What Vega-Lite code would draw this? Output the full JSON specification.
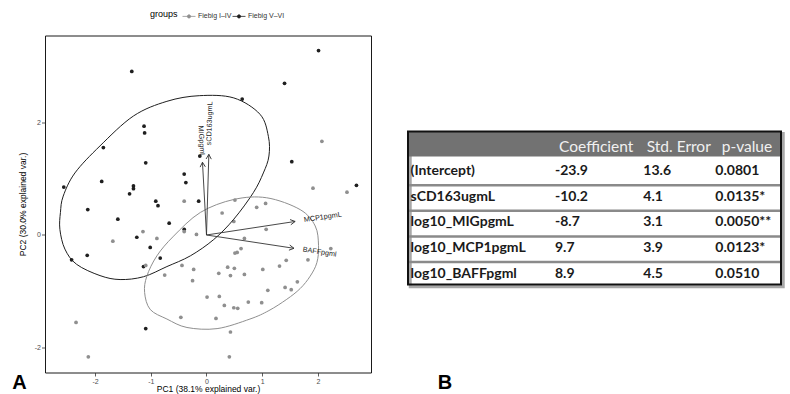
{
"$schema": "https://vega.github.io/schema/vega-lite/v6.json",
"background": "white",
"padding": {"left": 11, "top": 8.5, "right": 0, "bottom": 0},
"spacing": 37,
"bounds": "flush",
"config": {
  "font": "Liberation Sans",
  "view": {"stroke": null},
  "axis": {"grid": false, "domain": false, "tickColor": "#333", "tickSize": 3.5, "tickWidth": 0.8, "labelFontSize": 7, "labelColor": "#4d4d4d", "labelPadding": 1, "titleFontSize": 8.5, "titleFontWeight": "normal", "titleColor": "#000"},
  "legend": {"titleFontSize": 9, "titleFontWeight": "normal", "titleColor": "#000", "titlePadding": 4, "labelFontSize": 7, "labelColor": "#333", "labelOffset": 2, "columnPadding": -2, "symbolStrokeWidth": 0.8, "symbolOpacity": 1, "padding": 0}
},
"datasets": {
  "pts": [
    {"group":"Fiebig V–VI","pc1":2.01,"pc2":3.27},{"group":"Fiebig V–VI","pc1":-1.34,"pc2":2.90},{"group":"Fiebig V–VI","pc1":1.40,"pc2":2.69},{"group":"Fiebig V–VI","pc1":0.64,"pc2":2.41},{"group":"Fiebig V–VI","pc1":-1.12,"pc2":1.93},{"group":"Fiebig V–VI","pc1":-1.11,"pc2":1.81},{"group":"Fiebig V–VI","pc1":-1.85,"pc2":1.55},{"group":"Fiebig V–VI","pc1":-1.09,"pc2":1.28},{"group":"Fiebig V–VI","pc1":1.53,"pc2":1.30},{"group":"Fiebig V–VI","pc1":-0.40,"pc2":1.08},{"group":"Fiebig V–VI","pc1":-0.37,"pc2":0.93},{"group":"Fiebig V–VI","pc1":-2.56,"pc2":0.85},{"group":"Fiebig V–VI","pc1":-1.88,"pc2":0.95},{"group":"Fiebig V–VI","pc1":-1.31,"pc2":0.87},{"group":"Fiebig V–VI","pc1":-1.31,"pc2":0.82},{"group":"Fiebig V–VI","pc1":-1.38,"pc2":0.73},{"group":"Fiebig V–VI","pc1":2.69,"pc2":0.88},{"group":"Fiebig V–VI","pc1":-0.91,"pc2":0.60},{"group":"Fiebig V–VI","pc1":-0.87,"pc2":0.52},{"group":"Fiebig V–VI","pc1":-0.14,"pc2":0.60},{"group":"Fiebig V–VI","pc1":-2.13,"pc2":0.45},{"group":"Fiebig V–VI","pc1":-1.59,"pc2":0.28},{"group":"Fiebig V–VI","pc1":-0.67,"pc2":0.21},{"group":"Fiebig V–VI","pc1":-0.40,"pc2":0.10},{"group":"Fiebig V–VI","pc1":-1.25,"pc2":-0.04},{"group":"Fiebig V–VI","pc1":-1.01,"pc2":-0.22},{"group":"Fiebig V–VI","pc1":-2.14,"pc2":-0.36},{"group":"Fiebig V–VI","pc1":-2.42,"pc2":-0.44},{"group":"Fiebig V–VI","pc1":-0.83,"pc2":-0.41},{"group":"Fiebig V–VI","pc1":-1.13,"pc2":-0.56},{"group":"Fiebig V–VI","pc1":-1.09,"pc2":-1.66},{"group":"Fiebig V–VI","pc1":-0.12,"pc2":1.40},
    {"group":"Fiebig I–IV","pc1":2.07,"pc2":1.66},{"group":"Fiebig I–IV","pc1":1.91,"pc2":0.83},{"group":"Fiebig I–IV","pc1":2.52,"pc2":0.76},{"group":"Fiebig I–IV","pc1":-0.40,"pc2":0.60},{"group":"Fiebig I–IV","pc1":0.51,"pc2":0.62},{"group":"Fiebig I–IV","pc1":0.90,"pc2":0.49},{"group":"Fiebig I–IV","pc1":1.06,"pc2":0.56},{"group":"Fiebig I–IV","pc1":0.28,"pc2":0.39},{"group":"Fiebig I–IV","pc1":0.49,"pc2":0.24},{"group":"Fiebig I–IV","pc1":-1.14,"pc2":0.06},{"group":"Fiebig I–IV","pc1":-1.68,"pc2":-0.11},{"group":"Fiebig I–IV","pc1":-0.89,"pc2":-0.06},{"group":"Fiebig I–IV","pc1":-0.40,"pc2":0.06},{"group":"Fiebig I–IV","pc1":-0.18,"pc2":0.01},{"group":"Fiebig I–IV","pc1":1.07,"pc2":0.10},{"group":"Fiebig I–IV","pc1":0.68,"pc2":-0.06},{"group":"Fiebig I–IV","pc1":0.62,"pc2":-0.24},{"group":"Fiebig I–IV","pc1":0.51,"pc2":-0.32},{"group":"Fiebig I–IV","pc1":0.55,"pc2":-0.31},{"group":"Fiebig I–IV","pc1":2.23,"pc2":-0.24},{"group":"Fiebig I–IV","pc1":1.82,"pc2":-0.44},{"group":"Fiebig I–IV","pc1":1.43,"pc2":-0.45},{"group":"Fiebig I–IV","pc1":-1.09,"pc2":-0.54},{"group":"Fiebig I–IV","pc1":-0.44,"pc2":-0.54},{"group":"Fiebig I–IV","pc1":-0.23,"pc2":-0.61},{"group":"Fiebig I–IV","pc1":-0.75,"pc2":-0.71},{"group":"Fiebig I–IV","pc1":-0.25,"pc2":-0.81},{"group":"Fiebig I–IV","pc1":0.22,"pc2":-0.68},{"group":"Fiebig I–IV","pc1":0.38,"pc2":-0.57},{"group":"Fiebig I–IV","pc1":0.50,"pc2":-0.59},{"group":"Fiebig I–IV","pc1":0.43,"pc2":-0.72},{"group":"Fiebig I–IV","pc1":0.68,"pc2":-0.70},{"group":"Fiebig I–IV","pc1":1.01,"pc2":-0.61},{"group":"Fiebig I–IV","pc1":1.31,"pc2":-0.55},{"group":"Fiebig I–IV","pc1":1.63,"pc2":-0.83},{"group":"Fiebig I–IV","pc1":1.41,"pc2":-0.93},{"group":"Fiebig I–IV","pc1":1.52,"pc2":-0.97},{"group":"Fiebig I–IV","pc1":1.10,"pc2":-0.98},{"group":"Fiebig I–IV","pc1":0.01,"pc2":-1.10},{"group":"Fiebig I–IV","pc1":0.23,"pc2":-1.09},{"group":"Fiebig I–IV","pc1":0.32,"pc2":-1.25},{"group":"Fiebig I–IV","pc1":0.49,"pc2":-1.29},{"group":"Fiebig I–IV","pc1":0.56,"pc2":-1.30},{"group":"Fiebig I–IV","pc1":0.75,"pc2":-1.19},{"group":"Fiebig I–IV","pc1":0.99,"pc2":-1.20},{"group":"Fiebig I–IV","pc1":-0.46,"pc2":-1.46},{"group":"Fiebig I–IV","pc1":0.17,"pc2":-1.48},{"group":"Fiebig I–IV","pc1":0.43,"pc2":-1.72},{"group":"Fiebig I–IV","pc1":-2.34,"pc2":-1.55},{"group":"Fiebig I–IV","pc1":-2.12,"pc2":-2.16},{"group":"Fiebig I–IV","pc1":0.41,"pc2":-2.16}
  ],
  "ell": [
    {"group":"Fiebig V–VI","k":0,"pc1":-0.13,"pc2":2.47},{"group":"Fiebig V–VI","k":1,"pc1":0.49,"pc2":2.43},{"group":"Fiebig V–VI","k":2,"pc1":0.96,"pc2":2.14},{"group":"Fiebig V–VI","k":3,"pc1":1.11,"pc2":1.75},{"group":"Fiebig V–VI","k":4,"pc1":1.12,"pc2":1.40},{"group":"Fiebig V–VI","k":5,"pc1":1.02,"pc2":1.10},{"group":"Fiebig V–VI","k":6,"pc1":0.84,"pc2":0.75},{"group":"Fiebig V–VI","k":7,"pc1":0.49,"pc2":0.28},{"group":"Fiebig V–VI","k":8,"pc1":0.13,"pc2":-0.08},{"group":"Fiebig V–VI","k":9,"pc1":-0.29,"pc2":-0.37},{"group":"Fiebig V–VI","k":10,"pc1":-0.71,"pc2":-0.56},{"group":"Fiebig V–VI","k":11,"pc1":-1.13,"pc2":-0.74},{"group":"Fiebig V–VI","k":12,"pc1":-1.55,"pc2":-0.79},{"group":"Fiebig V–VI","k":13,"pc1":-1.91,"pc2":-0.72},{"group":"Fiebig V–VI","k":14,"pc1":-2.33,"pc2":-0.52},{"group":"Fiebig V–VI","k":15,"pc1":-2.54,"pc2":-0.25},{"group":"Fiebig V–VI","k":16,"pc1":-2.63,"pc2":0.10},{"group":"Fiebig V–VI","k":17,"pc1":-2.62,"pc2":0.40},{"group":"Fiebig V–VI","k":18,"pc1":-2.57,"pc2":0.69},{"group":"Fiebig V–VI","k":19,"pc1":-2.36,"pc2":1.10},{"group":"Fiebig V–VI","k":20,"pc1":-1.91,"pc2":1.58},{"group":"Fiebig V–VI","k":21,"pc1":-1.31,"pc2":2.11},{"group":"Fiebig V–VI","k":22,"pc1":-0.71,"pc2":2.37},
    {"group":"Fiebig I–IV","k":0,"pc1":0.49,"pc2":0.63},{"group":"Fiebig I–IV","k":1,"pc1":1.08,"pc2":0.66},{"group":"Fiebig I–IV","k":2,"pc1":1.68,"pc2":0.45},{"group":"Fiebig I–IV","k":3,"pc1":1.95,"pc2":0.16},{"group":"Fiebig I–IV","k":4,"pc1":2.01,"pc2":-0.19},{"group":"Fiebig I–IV","k":5,"pc1":1.98,"pc2":-0.49},{"group":"Fiebig I–IV","k":6,"pc1":1.86,"pc2":-0.73},{"group":"Fiebig I–IV","k":7,"pc1":1.68,"pc2":-0.95},{"group":"Fiebig I–IV","k":8,"pc1":1.44,"pc2":-1.14},{"group":"Fiebig I–IV","k":9,"pc1":1.12,"pc2":-1.34},{"group":"Fiebig I–IV","k":10,"pc1":0.78,"pc2":-1.49},{"group":"Fiebig I–IV","k":11,"pc1":0.19,"pc2":-1.66},{"group":"Fiebig I–IV","k":12,"pc1":-0.35,"pc2":-1.64},{"group":"Fiebig I–IV","k":13,"pc1":-0.71,"pc2":-1.49},{"group":"Fiebig I–IV","k":14,"pc1":-1.01,"pc2":-1.32},{"group":"Fiebig I–IV","k":15,"pc1":-1.11,"pc2":-1.02},{"group":"Fiebig I–IV","k":16,"pc1":-1.07,"pc2":-0.73},{"group":"Fiebig I–IV","k":17,"pc1":-0.89,"pc2":-0.37},{"group":"Fiebig I–IV","k":18,"pc1":-0.59,"pc2":-0.02},{"group":"Fiebig I–IV","k":19,"pc1":-0.11,"pc2":0.40}
  ],
  "arr": [
    {"var":"MIGpgmL","pc1":-0.072,"pc2":1.29},{"var":"sCD163ugmL","pc1":0.042,"pc2":1.43},{"var":"MCP1pgmL","pc1":1.59,"pc2":0.24},{"var":"BAFFpgml","pc1":1.57,"pc2":-0.236}
  ],
  "panels": [
    {"lab":"A","pc1":-3.353,"pc2":-2.736},{"lab":"B","pc1":4.28,"pc2":-2.736}
  ],
  "body": [
    {"row":1,"term":"(Intercept)","coef":"-23.9","se":"13.6","p":"0.0801"},
    {"row":2,"term":"sCD163ugmL","coef":"-10.2","se":"4.1","p":"0.0135*"},
    {"row":3,"term":"log10_MIGpgmL","coef":"-8.7","se":"3.1","p":"0.0050**"},
    {"row":4,"term":"log10_MCP1pgmL","coef":"9.7","se":"3.9","p":"0.0123*"},
    {"row":5,"term":"log10_BAFFpgml","coef":"8.9","se":"4.5","p":"0.0510"}
  ],
  "hdr": [
    {"row":0,"coef":"Coefficient","se":"Std. Error","p":"p-value"}
  ]
},
"hconcat": [
  {
    "width": 326, "height": 337,
    "view": {"stroke": "#1a1a1a", "strokeWidth": 1},
    "layer": [
      {"data": {"name": "pts"}, "mark": {"type": "circle", "size": 14, "opacity": 1},
       "encoding": {
         "x": {"field": "pc1", "type": "quantitative", "scale": {"domain": [-2.897, 2.951], "nice": false, "zero": false},
               "axis": {"title": "PC1 (38.1% explained var.)", "values": [-2,-1,0,1,2], "format": "d", "labelExpr": "replace(datum.label, '−', '-')", "titlePadding": 0.5}},
         "y": {"field": "pc2", "type": "quantitative", "scale": {"domain": [-2.438, 3.537], "nice": false, "zero": false},
               "axis": {"title": "PC2 (30.0% explained var.)", "values": [-2,0,2], "format": "d", "labelExpr": "replace(datum.label, '−', '-')", "titlePadding": 7}},
         "color": {"field": "group", "type": "nominal", "scale": {"domain": ["Fiebig I–IV", "Fiebig V–VI"], "range": ["#8f8f8f", "#1f1f1f"]},
                   "legend": {"title": "groups", "orient": "none", "legendX": 105, "legendY": -26.5, "direction": "horizontal", "titleOrient": "left",
                              "symbolType": "M-1,0L1,0M-0.25,0A0.25,0.25 0 1,1 0.25,0A0.25,0.25 0 1,1 -0.25,0Z",
                              "symbolSize": 169}}
       }},
      {"data": {"name": "ell"}, "mark": {"type": "line", "interpolate": "cardinal-closed", "strokeWidth": 1},
       "encoding": {
         "x": {"field": "pc1", "type": "quantitative"},
         "y": {"field": "pc2", "type": "quantitative"},
         "color": {"field": "group", "type": "nominal"},
         "order": {"field": "k", "type": "quantitative"}
       }},
      {"data": {"name": "arr"}, "transform": [{"calculate": "0", "as": "o"}], "mark": {"type": "rule", "color": "#333", "strokeWidth": 0.9},
       "encoding": {
         "x": {"field": "o", "type": "quantitative"},
         "y": {"field": "o", "type": "quantitative"},
         "x2": {"field": "pc1"},
         "y2": {"field": "pc2"}
       }},
      {"data": {"name": "arr"}, "transform": [{"calculate": "atan2(-datum.pc2, datum.pc1) * 180 / PI", "as": "dir"}],
       "mark": {"type": "point", "shape": "M-1,-0.55L0,0L-1,0.55", "filled": false, "size": 90, "strokeWidth": 0.9, "color": "#333", "opacity": 1},
       "encoding": {
         "x": {"field": "pc1", "type": "quantitative"},
         "y": {"field": "pc2", "type": "quantitative"},
         "angle": {"field": "dir", "type": "quantitative", "scale": null}
       }},
      {"data": {"name": "arr"}, "transform": [{"filter": "datum.pc1 > 0"}, {"calculate": "-atan(datum.pc2 / datum.pc1) * 180 / PI", "as": "ta"}],
       "mark": {"type": "text", "align": "left", "baseline": "middle", "dx": 9, "fontSize": 7.2, "color": "#222"},
       "encoding": {
         "x": {"field": "pc1", "type": "quantitative"},
         "y": {"field": "pc2", "type": "quantitative"},
         "text": {"field": "var"},
         "angle": {"field": "ta", "type": "quantitative", "scale": null}
       }},
      {"data": {"name": "arr"}, "transform": [{"filter": "datum.pc1 < 0"}, {"calculate": "-atan(datum.pc2 / datum.pc1) * 180 / PI", "as": "ta"}],
       "mark": {"type": "text", "align": "right", "baseline": "middle", "dx": -5, "fontSize": 7.2, "color": "#222"},
       "encoding": {
         "x": {"field": "pc1", "type": "quantitative"},
         "y": {"field": "pc2", "type": "quantitative"},
         "text": {"field": "var"},
         "angle": {"field": "ta", "type": "quantitative", "scale": null}
       }},
      {"data": {"name": "panels"}, "mark": {"type": "text", "align": "center", "baseline": "alphabetic", "fontSize": 20, "fontWeight": "bold", "color": "#000", "clip": false},
       "encoding": {
         "x": {"field": "pc1", "type": "quantitative"},
         "y": {"field": "pc2", "type": "quantitative"},
         "text": {"field": "lab"}
       }}
    ]
  },
  {
    "width": 373, "height": 337,
    "view": {"stroke": null},
    "encoding": {
      "x": {"field": "cx", "type": "quantitative", "scale": {"domain": [0, 100], "nice": false, "zero": false}, "axis": null},
      "y": {"field": "cy", "type": "quantitative", "scale": {"domain": [-4.30, 8.863], "reverse": true, "nice": false, "zero": false}, "axis": null}
    },
    "layer": [
      {"data": {"name": "hdr"}, "transform": [{"calculate": "0.6", "as": "cx"}, {"calculate": "100.6", "as": "cx2"}, {"calculate": "-0.47", "as": "cy"}, {"calculate": "5.51", "as": "cy2"}],
       "mark": {"type": "rect", "filled": false, "stroke": "#a8a8a8", "strokeWidth": 3},
       "encoding": {"x2": {"field": "cx2"}, "y2": {"field": "cy2"}}},
      {"data": {"name": "hdr"}, "transform": [{"calculate": "0", "as": "cx"}, {"calculate": "100", "as": "cx2"}, {"calculate": "-0.55", "as": "cy"}, {"calculate": "0.43", "as": "cy2"}],
       "mark": {"type": "rect", "fill": "#727272"},
       "encoding": {"x2": {"field": "cx2"}, "y2": {"field": "cy2"}}},
      {"data": {"name": "body"}, "transform": [{"filter": "datum.row < 5"}, {"calculate": "0", "as": "cx"}, {"calculate": "100", "as": "cx2"}, {"calculate": "datum.row + 0.55", "as": "cy"}],
       "mark": {"type": "rule", "stroke": "#8a8a8a", "strokeWidth": 2.5},
       "encoding": {"x2": {"field": "cx2"}}},
      {"data": {"name": "hdr"}, "transform": [{"calculate": "0", "as": "cx"}, {"calculate": "100", "as": "cx2"}, {"calculate": "-0.55", "as": "cy"}, {"calculate": "5.43", "as": "cy2"}],
       "mark": {"type": "rect", "filled": false, "stroke": "#111", "strokeWidth": 2},
       "encoding": {"x2": {"field": "cx2"}, "y2": {"field": "cy2"}}},
      {"data": {"name": "body"}, "transform": [{"calculate": "0.7", "as": "cx"}, {"calculate": "datum.row", "as": "cy"}],
       "mark": {"type": "text", "align": "left", "baseline": "middle", "font": "Lato", "fontSize": 14, "fontWeight": "bold", "color": "#1a1a1a"},
       "encoding": {"text": {"field": "term"}}},
      {"data": {"name": "body"}, "transform": [{"calculate": "39.4", "as": "cx"}, {"calculate": "datum.row", "as": "cy"}],
       "mark": {"type": "text", "align": "left", "baseline": "middle", "font": "Lato", "fontSize": 14, "fontWeight": "bold", "color": "#1a1a1a"},
       "encoding": {"text": {"field": "coef"}}},
      {"data": {"name": "body"}, "transform": [{"calculate": "63.1", "as": "cx"}, {"calculate": "datum.row", "as": "cy"}],
       "mark": {"type": "text", "align": "left", "baseline": "middle", "font": "Lato", "fontSize": 14, "fontWeight": "bold", "color": "#1a1a1a"},
       "encoding": {"text": {"field": "se"}}},
      {"data": {"name": "body"}, "transform": [{"calculate": "82.4", "as": "cx"}, {"calculate": "datum.row", "as": "cy"}],
       "mark": {"type": "text", "align": "left", "baseline": "middle", "font": "Lato", "fontSize": 14, "fontWeight": "bold", "color": "#1a1a1a"},
       "encoding": {"text": {"field": "p"}}},
      {"data": {"name": "hdr"}, "transform": [{"calculate": "40.5", "as": "cx"}, {"calculate": "datum.row", "as": "cy"}],
       "mark": {"type": "text", "align": "left", "baseline": "middle", "font": "Lato", "fontSize": 15.5, "color": "#f0f0f0", "dy": 1},
       "encoding": {"text": {"field": "coef"}}},
      {"data": {"name": "hdr"}, "transform": [{"calculate": "64.0", "as": "cx"}, {"calculate": "datum.row", "as": "cy"}],
       "mark": {"type": "text", "align": "left", "baseline": "middle", "font": "Lato", "fontSize": 15.5, "color": "#f0f0f0", "dy": 1},
       "encoding": {"text": {"field": "se"}}},
      {"data": {"name": "hdr"}, "transform": [{"calculate": "84.1", "as": "cx"}, {"calculate": "datum.row", "as": "cy"}],
       "mark": {"type": "text", "align": "left", "baseline": "middle", "font": "Lato", "fontSize": 15.5, "color": "#f0f0f0", "dy": 1},
       "encoding": {"text": {"field": "p"}}}
    ]
  }
]
}
